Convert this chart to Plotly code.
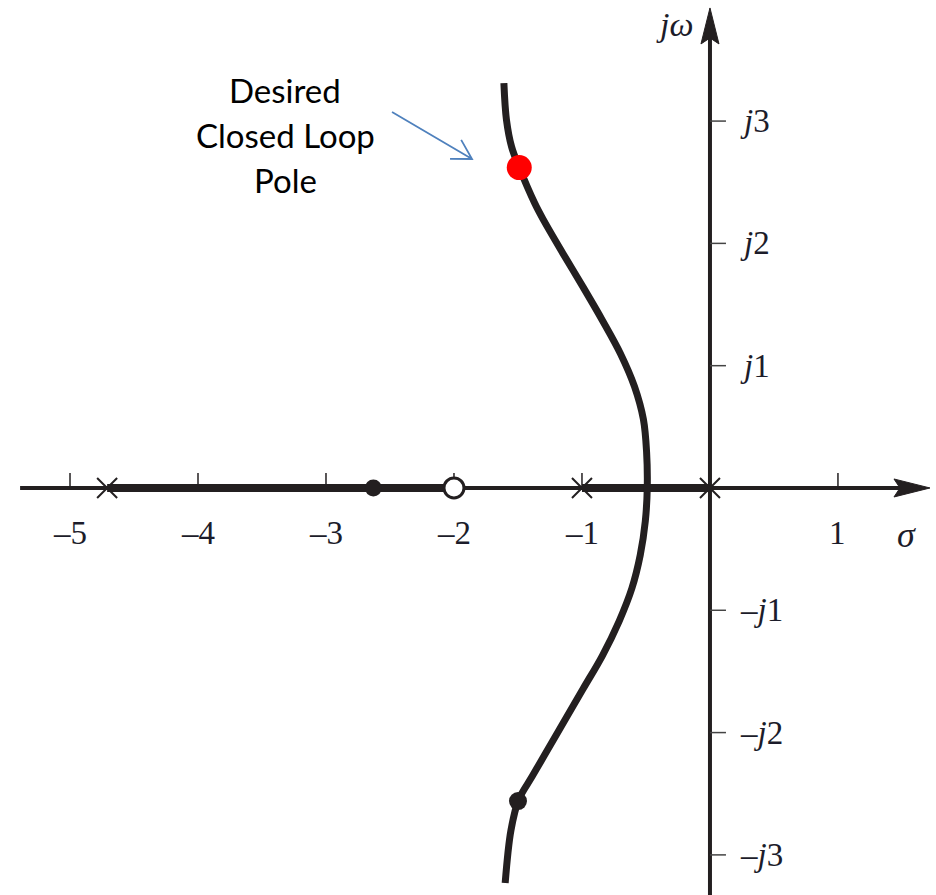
import math
import plotly.graph_objects as go

# ---- root-locus data -------------------------------------------------------
# open-loop poles and zero on the real axis
pole_sigma = [-4.71, -1.0, 0.0]
zero_sigma = [-2.0]

# real-axis segments of the locus
real_seg_a = [-4.71, -2.0]
real_seg_b = [-1.0, 0.0]

# complex branch, traced from top to bottom
locus_sigma = [-1.61, -1.59, -1.55, -1.49, -1.37, -1.30, -1.15, -0.99, -0.84,
               -0.70, -0.59, -0.52, -0.495, -0.49,
               -0.505, -0.545, -0.61, -0.71, -0.84, -0.99, -1.14, -1.29,
               -1.39, -1.495, -1.555, -1.60]
locus_omega = [3.31, 3.01, 2.79, 2.62, 2.33, 2.19, 1.92, 1.64, 1.37,
               1.10, 0.83, 0.56, 0.29, 0.00,
               -0.27, -0.55, -0.82, -1.09, -1.37, -1.64, -1.91, -2.18,
               -2.36, -2.55, -2.80, -3.23]

# closed-loop poles
real_pole_sigma = [-2.63]
desired_sigma, desired_omega = [-1.49], [2.62]
conj_sigma, conj_omega = [-1.50], [-2.56]

# axis ticks
x_ticks = [-5, -4, -3, -2, -1, 1]
x_tick_text = ["\u20135", "\u20134", "\u20133", "\u20132", "\u20131", "1"]
y_ticks = [3, 2, 1, -1, -2, -3]
y_tick_text = ["<i>j</i>3", "<i>j</i>2", "<i>j</i>1",
               "\u2013<i>j</i>1", "\u2013<i>j</i>2", "\u2013<i>j</i>3"]

note_lines = ["Desired", "Closed Loop", "Pole"]

# ---- styling ---------------------------------------------------------------
INK = "#231f20"
LABEL = "#1c1c2a"
BLUE = "#4f81bd"
X_RANGE = [-5.547, 1.766]
Y_RANGE = [-3.328, 3.990]
SERIF = "Liberation Serif"

fig = go.Figure()

# axes (drawn as lines with arrowheads)
x_axis_start, x_axis_tip = -5.39, 1.719
y_axis_start, y_axis_tip = -3.5, 3.925
fig.add_shape(type="line", x0=x_axis_start, x1=x_axis_tip - 0.2, y0=0, y1=0,
              line=dict(color=INK, width=4), layer="below")
fig.add_shape(type="line", x0=0, x1=0, y0=y_axis_start, y1=y_axis_tip - 0.2,
              line=dict(color=INK, width=4), layer="below")
fig.add_shape(type="path", xsizemode="pixel", ysizemode="pixel",
              xanchor=x_axis_tip, yanchor=0,
              path="M0,0 L-36,9 L-30,0 L-36,-9 Z",
              fillcolor=INK, line=dict(color=INK, width=1), layer="below")
fig.add_shape(type="path", xsizemode="pixel", ysizemode="pixel",
              xanchor=0, yanchor=y_axis_tip,
              path="M0,0 L9,-36 L0,-30 L-9,-36 Z",
              fillcolor=INK, line=dict(color=INK, width=1), layer="below")

# tick marks
for t in x_ticks:
    fig.add_shape(type="line", ysizemode="pixel", yanchor=0, y0=0, y1=15,
                  x0=t, x1=t, line=dict(color=INK, width=1.5), layer="below")
for t in y_ticks:
    fig.add_shape(type="line", xsizemode="pixel", xanchor=0, x0=0, x1=16,
                  y0=t, y1=t, line=dict(color="#444", width=1.5), layer="below")

# real-axis locus segments
for seg in (real_seg_a, real_seg_b):
    fig.add_trace(go.Scatter(x=seg, y=[0, 0], mode="lines",
                             line=dict(color=INK, width=8), hoverinfo="skip"))

# complex branch
fig.add_trace(go.Scatter(x=locus_sigma, y=locus_omega, mode="lines",
                         line=dict(color=INK, width=7, shape="spline"),
                         hoverinfo="skip"))

# open-loop poles and zero
fig.add_trace(go.Scatter(x=pole_sigma, y=[0] * len(pole_sigma), mode="markers",
                         marker=dict(symbol="x-thin", size=20,
                                     line=dict(color=INK, width=2))))
fig.add_trace(go.Scatter(x=zero_sigma, y=[0], mode="markers",
                         marker=dict(symbol="circle", size=20, color="white",
                                     line=dict(color=INK, width=3))))

# closed-loop poles
fig.add_trace(go.Scatter(x=real_pole_sigma, y=[0], mode="markers",
                         marker=dict(size=17, color=INK)))
fig.add_trace(go.Scatter(x=conj_sigma, y=conj_omega, mode="markers",
                         marker=dict(size=18, color=INK)))
fig.add_trace(go.Scatter(x=desired_sigma, y=desired_omega, mode="markers",
                         marker=dict(size=25, color="#ff0000")))

# tick labels
annotations = []
for t, s in zip(x_ticks, x_tick_text):
    annotations.append(dict(x=t, y=0, text=s, showarrow=False, yshift=-45,
                            xanchor="center", yanchor="middle",
                            font=dict(family=SERIF, size=33, color=LABEL)))
for t, s in zip(y_ticks, y_tick_text):
    annotations.append(dict(x=0, y=t, text=s, showarrow=False, xshift=28,
                            xanchor="left", yanchor="middle",
                            font=dict(family=SERIF, size=33, color=LABEL)))
annotations.append(dict(x=1.539, y=0, text="<i>\u03c3</i>", showarrow=False,
                        yshift=-47, xanchor="center", yanchor="middle",
                        font=dict(family=SERIF, size=36, color=LABEL)))
annotations.append(dict(x=-0.28, y=3.786, text="<i>j\u03c9</i>", showarrow=False,
                        xanchor="center", yanchor="middle",
                        font=dict(family=SERIF, size=34, color=LABEL)))

# callout text
note_y = [3.254, 2.886, 2.518]
for line_text, yy in zip(note_lines, note_y):
    annotations.append(dict(x=-3.32, y=yy, text=line_text, showarrow=False,
                            xanchor="center", yanchor="middle",
                            font=dict(family="Lato", size=33, color="black")))

# callout arrow: straight shaft with an open V head, sized in pixels
shaft_dx, shaft_dy = -80, 47          # tail offset from the tip, pixels (y up)
barb_len, barb_angle = 22, math.radians(30)
ang = math.atan2(shaft_dy, shaft_dx)
b1 = (barb_len * math.cos(ang - barb_angle), barb_len * math.sin(ang - barb_angle))
b2 = (barb_len * math.cos(ang + barb_angle), barb_len * math.sin(ang + barb_angle))
fig.add_shape(type="path", xsizemode="pixel", ysizemode="pixel",
              xanchor=-1.859, yanchor=2.690,
              path=(f"M{shaft_dx},{shaft_dy} L0,0 "
                    f"M{b1[0]:.2f},{b1[1]:.2f} L0,0 L{b2[0]:.2f},{b2[1]:.2f}"),
              line=dict(color=BLUE, width=1.8))

fig.update_layout(
    width=936, height=895, autosize=False,
    margin=dict(l=0, r=0, t=0, b=0, pad=0),
    paper_bgcolor="white", plot_bgcolor="white",
    showlegend=False,
    xaxis=dict(range=X_RANGE, visible=False, fixedrange=True),
    yaxis=dict(range=Y_RANGE, visible=False, fixedrange=True),
    annotations=annotations,
)

fig.write_html("out.html")
